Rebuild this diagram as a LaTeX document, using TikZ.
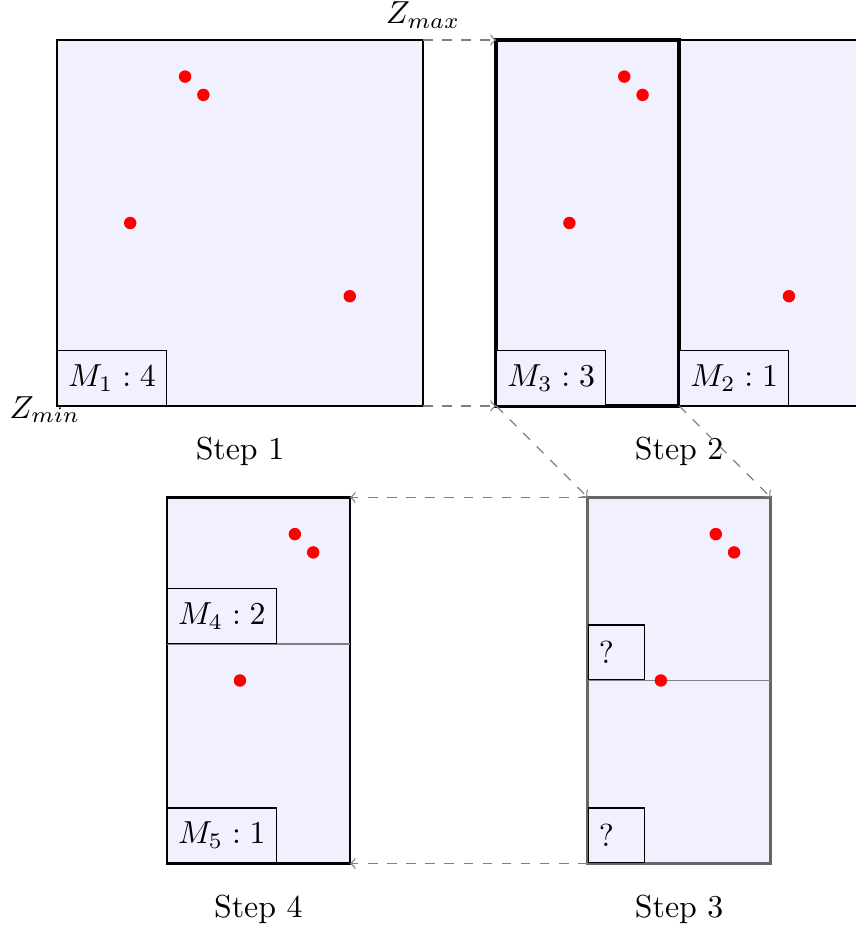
\documentclass[tikz,border=0pt]{standalone}
\tikzset{
  region/.style={fill=blue!6, draw=black, thick},
  pt/.style={fill=red},
  mbox/.style={draw, fill=blue!6, anchor=south west, minimum height=0.605cm},
  qbox/.style={draw, fill=blue!6, anchor=south west, minimum height=0.605cm, text width=11pt, align=left},
  link/.style={gray, dashed, ->},
  split/.style={gray, thin}
}
\begin{document}
\begin{tikzpicture}[x=0.404cm,y=0.404cm]
  \useasboundingbox (-1.557,-14.29) rectangle (21.83,11.093);
  % step 1
  \coordinate (a1) at (0,0);
  \coordinate (a2) at (10,0);
  \coordinate (a3) at (10,10);
  \draw[region] (a1) rectangle (a3);
  \node[mbox] (m1) at (a1) {$M_1:4$};
  \fill[pt] (3.5,9) circle (0.17);
  \fill[pt] (4,8.5) circle (0.17);
  \fill[pt] (2,5) circle (0.17);
  \fill[pt] (8,3) circle (0.17);
  \node[above] (zmax) at (a3) {$Z_{max}$};
  \node (zmin) at (-0.33,-0.1) {$Z_{min}$};
  \node (s1) at (5,-1.25) {Step 1};
  % step 2
  \coordinate (b1) at (12,0);
  \coordinate (b2) at (17,0);
  \coordinate (b4) at (12,10);
  \draw[region] (b1) rectangle (22,10);
  \draw[line width=1.2pt] (b1) rectangle (17,10);
  \node[mbox] (m3) at (b1) {$M_3:3$};
  \node[mbox] (m2) at (b2) {$M_2:1$};
  \fill[pt] (15.5,9) circle (0.17);
  \fill[pt] (16,8.5) circle (0.17);
  \fill[pt] (14,5) circle (0.17);
  \fill[pt] (20,3) circle (0.17);
  \node (s2) at (17,-1.25) {Step 2};
  \draw[link] (a3) -- (b4);
  \draw[link] (a2) -- (b1);
  % step 3
  \coordinate (c1) at (14.5,-12.5);
  \coordinate (c3) at (19.5,-2.5);
  \coordinate (c4) at (14.5,-2.5);
  \coordinate (c5) at (14.5,-7.5);
  \draw[fill=blue!6, draw=black!60, line width=1pt] (c1) rectangle (c3);
  \draw[split] (c5) -- (19.5,-7.5);
  \node[qbox] (q1) at (c5) {?};
  \node[qbox] (q2) at (c1) {?};
  \fill[pt] (18,-3.5) circle (0.17);
  \fill[pt] (18.5,-4) circle (0.17);
  \fill[pt] (16.5,-7.5) circle (0.17);
  \node (s3) at (17,-13.75) {Step 3};
  \draw[link] (b1) -- (c4);
  \draw[link] (b2) -- (c3);
  % step 4
  \coordinate (d1) at (3,-12.5);
  \coordinate (d2) at (8,-12.5);
  \coordinate (d3) at (8,-2.5);
  \coordinate (d5) at (3,-6.5);
  \draw[region] (d1) rectangle (d3);
  \draw[split] (d5) -- (8,-6.5);
  \node[mbox] (m4) at (d5) {$M_4:2$};
  \node[mbox] (m5) at (d1) {$M_5:1$};
  \fill[pt] (6.5,-3.5) circle (0.17);
  \fill[pt] (7,-4) circle (0.17);
  \fill[pt] (5,-7.5) circle (0.17);
  \node (s4) at (5.5,-13.75) {Step 4};
  \draw[link] (c4) -- (d3);
  \draw[link] (c1) -- (d2);
\end{tikzpicture}
\end{document}
